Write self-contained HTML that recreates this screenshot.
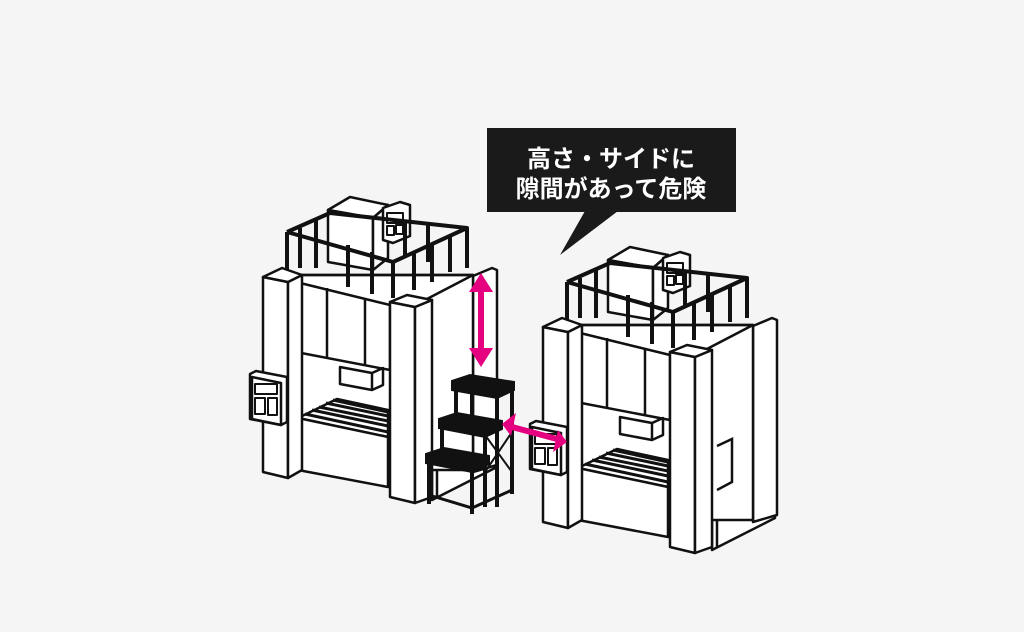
<!DOCTYPE html>
<html><head><meta charset="utf-8"><style>
html,body{margin:0;padding:0;background:#f5f5f5;}
svg{display:block}
</style></head><body>
<svg width="1024" height="632" viewBox="0 0 1024 632" xmlns="http://www.w3.org/2000/svg">
<rect width="1024" height="632" fill="#f5f5f5"/>
<defs>
<g id="m" stroke="#111" stroke-width="2.5" stroke-linejoin="round" fill="#fff">
  <polygon points="432,302 473,280 495,270 495,468 432,500"/>
  <polygon points="473,276 492,268 497,270 497,465 473,472"/>
  <line x1="437" y1="302" x2="437" y2="498"/>
  <polygon points="300,275 473,275 473,470 300,470"/>
  <polygon points="296,282 390,305 390,370 296,352"/>
  <line x1="327" y1="288" x2="327" y2="359"/>
  <line x1="365" y1="298" x2="365" y2="366"/>
  <polygon points="340,367 372,373 383,368 383,385 372,390 340,384"/>
  <line x1="372" y1="373" x2="372" y2="390"/>
  <polyline fill="none" points="302,275 473,275 425,300"/>
  <polygon points="328,210 350,197 388,205 373,218"/>
  <polygon points="328,210 373,218 373,270 328,262"/>
  <polygon points="373,218 388,205 388,258 373,270"/>
  <polygon points="383,208 400,202 410,205 410,236 393,243 383,240"/>
  <rect x="387" y="213" width="16" height="10" fill="none" stroke-width="2"/>
  <rect x="387" y="226" width="7" height="9" fill="none" stroke-width="2"/>
  <rect x="396" y="225" width="7" height="9" fill="none" stroke-width="2"/>
  <g fill="none" stroke-width="4">
    <polyline points="287,232 330,213 467,228 393,262 287,232"/>
    <line x1="287" y1="232" x2="287" y2="272"/>
    <line x1="300" y1="228" x2="300" y2="268"/>
    <line x1="316" y1="236" x2="316" y2="268"/>
    <line x1="348" y1="245" x2="348" y2="287"/>
    <line x1="372" y1="252" x2="372" y2="294"/>
    <line x1="393" y1="262" x2="393" y2="298"/>
    <line x1="414" y1="252" x2="414" y2="290"/>
    <line x1="432" y1="244" x2="432" y2="282"/>
    <line x1="450" y1="236" x2="450" y2="272"/>
    <line x1="467" y1="228" x2="467" y2="268"/>
    <line x1="428" y1="222" x2="428" y2="262"/>
    <line x1="405" y1="220" x2="405" y2="256"/>
    <line x1="316" y1="219" x2="316" y2="255"/>
  </g>
  <polygon points="298,418 337,399 388,410 388,437"/>
  <polygon points="298,418 388,437 388,487 298,470"/>
  <g stroke-width="3">
    <line x1="305" y1="414" x2="388" y2="432"/>
    <line x1="312" y1="410" x2="388" y2="426"/>
    <line x1="319" y1="407" x2="388" y2="421"/>
    <line x1="326" y1="403" x2="388" y2="416"/>
    <line x1="333" y1="400" x2="388" y2="412"/>
  </g>
  <polygon points="263,277 288,282 288,478 263,472"/>
  <polygon points="288,282 302,275 302,470 288,478"/>
  <polygon points="263,277 282,268 302,275 288,282"/>
  <polygon points="250,374 256,371 287,377 287,422 281,425 250,419"/>
  <polygon points="252,377 281,383 281,425 252,419" fill="none"/>
  <rect x="255" y="384" width="22" height="10" fill="none" stroke-width="2"/>
  <rect x="255" y="398" width="10" height="16" fill="none" stroke-width="2"/>
  <rect x="268" y="398" width="9" height="17" fill="none" stroke-width="2"/>
  <polygon points="390,302 415,307 415,503 390,497"/>
  <polygon points="415,307 432,300 432,497 415,503"/>
  <polygon points="390,302 407,295 432,300 415,307"/>
</g>
</defs>

<use href="#m"/>
<g transform="translate(280,50)"><use href="#m"/>
  <polyline points="437,396 452,389 452,432 437,440" fill="none" stroke="#111" stroke-width="2.5"/>
</g>

<!-- ladder -->
<g fill="#111" stroke="#111" stroke-width="4" stroke-linecap="square">
  <polygon points="452,381 470,375 514,382 514,390 497,398 452,390" stroke-width="2"/>
  <line x1="456" y1="388" x2="456" y2="420"/>
  <line x1="497" y1="396" x2="497" y2="505"/>
  <line x1="512" y1="388" x2="512" y2="492"/>
  <line x1="472" y1="380" x2="472" y2="420"/>
  <polygon points="439,419 457,413 502,421 502,429 485,437 439,428" stroke-width="2"/>
  <line x1="442" y1="426" x2="442" y2="458"/>
  <line x1="485" y1="435" x2="485" y2="505"/>
  <polygon points="426,454 444,448 489,456 489,464 472,472 426,463" stroke-width="2"/>
  <line x1="429" y1="461" x2="429" y2="502"/>
  <line x1="472" y1="470" x2="472" y2="512"/>
  <line x1="429" y1="495" x2="472" y2="508" stroke-width="3"/>
  <line x1="472" y1="508" x2="512" y2="490" stroke-width="3"/>
  <line x1="485" y1="435" x2="512" y2="472" stroke-width="2"/>
  <line x1="512" y1="432" x2="485" y2="472" stroke-width="2"/>
</g>

<g fill="#e4007f" stroke="#e4007f">
  <line x1="481" y1="285" x2="481" y2="355" stroke-width="6"/>
  <polygon points="481,273 469,292 493,292" stroke="none"/>
  <polygon points="481,367 469,348 493,348" stroke="none"/>
  <line x1="512" y1="427" x2="557" y2="439" stroke-width="6"/>
  <polygon points="502,424 516,413 511,436" stroke="none"/>
  <polygon points="567,442 553,452 558,430" stroke="none"/>
</g>

<rect x="487" y="128" width="249" height="84" fill="#1a1a1a"/>
<polygon points="585,211 618,211 560,255" fill="#1a1a1a"/>
<g font-family="'Liberation Sans','Noto Sans CJK JP',sans-serif" font-weight="bold" font-size="24" fill="#fff" text-anchor="middle">
<text x="611" y="167">高さ・サイドに</text>
<text x="611" y="197">隙間があって危険</text>
</g>
</svg>
</body></html>
